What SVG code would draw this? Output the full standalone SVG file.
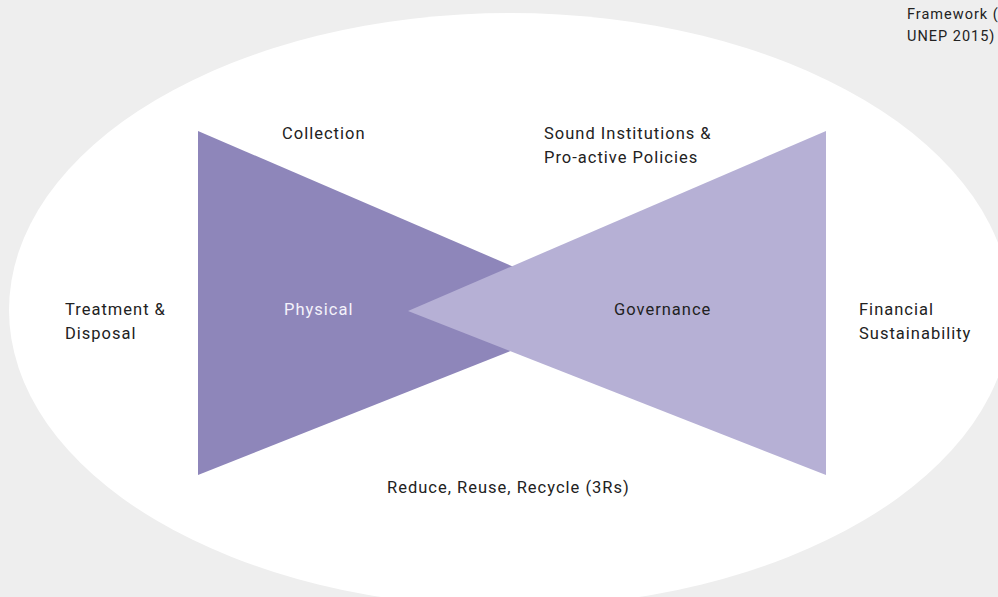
<svg xmlns="http://www.w3.org/2000/svg" width="998" height="597" viewBox="0 0 998 597">
<style>
text { font-family: "Roboto", "Liberation Sans", sans-serif; font-size: 16.5px; letter-spacing: 1px; fill: #222222; }
.light { fill: #f4f2fa; }
.note { font-size: 14.5px; }
</style>
<rect x="0" y="0" width="998" height="597" fill="#eeeeee"/>
<ellipse cx="510" cy="310" rx="501" ry="297" fill="#ffffff"/>
<g id="physical">
<polygon points="198,131 198,475 614,310" fill="#8e86ba"/>
<text class="light" x="284" y="315">Physical</text>
</g>
<g id="governance">
<polygon points="826,131 826,475 408,311" fill="#b6b0d5"/>
<text x="614" y="315">Governance</text>
</g>
<g id="collection"><text x="282" y="139">Collection</text></g>
<g id="sound-institutions"><text x="544" y="139">Sound Institutions &amp;</text><text x="544" y="163">Pro-active Policies</text></g>
<g id="treatment"><text x="65" y="315">Treatment &amp;</text><text x="65" y="339">Disposal</text></g>
<g id="financial"><text x="859" y="315">Financial</text><text x="859" y="339">Sustainability</text></g>
<g id="three-rs"><text x="387" y="493">Reduce, Reuse, Recycle (3Rs)</text></g>
<g id="source"><text class="note" x="907" y="19">Framework (</text><text class="note" x="907" y="41">UNEP 2015)</text></g>
<g id="connectors"></g>
</svg>
